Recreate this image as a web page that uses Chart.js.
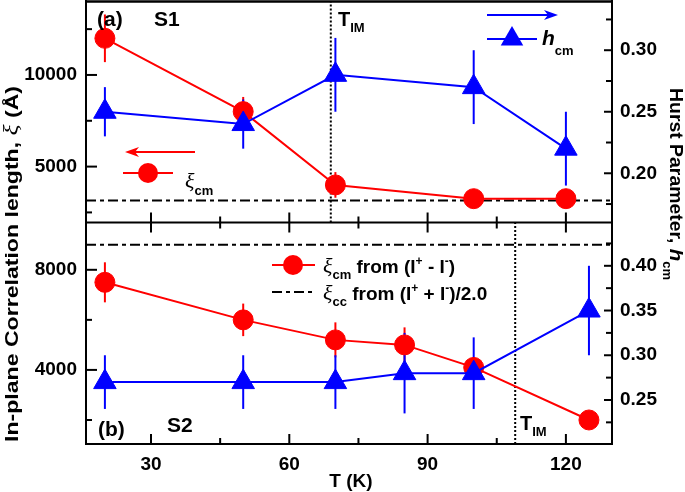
<!DOCTYPE html>
<html>
<head>
<meta charset="utf-8">
<script src="https://cdn.jsdelivr.net/npm/chart.js"></script>
<style>
  body { margin: 0; background: #fff; }
  #wrap { width: 685px; height: 492px; }
</style>
</head>
<body>
<div id="wrap"><canvas id="hurst-chart"></canvas></div>
<script>
// Sample S1 (panel a)
var tempS1 = [20, 50, 70, 100, 120];
var xiS1 = [12000, 8000, 4000, 3250, 3250];
var xiErrS1 = [1300, 800, 700, 400, 300];
var hS1 = [0.25, 0.24, 0.28, 0.27, 0.22];
var hErrS1 = [0.02, 0.02, 0.03, 0.03, 0.03];

// Sample S2 (panel b)
var tempS2 = [20, 50, 70, 85, 100, 125];
var xiS2 = [7500, 6000, 5200, 5000, 4100, 2000];
var xiErrS2 = [800, 650, 700, 700, 300, 200];
var hS2 = [0.27, 0.27, 0.27, 0.28, 0.28, 0.35];
var hErrS2 = [0.03, 0.03, 0.03, 0.045, 0.04, 0.05];

// xi_cc level and T_IM for S1, S2
var xiCC = [3150, 9000];
var tIM = [69, 109];

// ticks (all marks) and the ones that carry a label
var xTicks = [30, 45, 60, 75, 90, 105, 120];
var xLabels = [30, 60, 90, 120];
var xiTicksS1 = [2500, 5000, 7500, 10000, 12500];
var xiLabelsS1 = [5000, 10000];
var hTicksS1 = [0.175, 0.2, 0.225, 0.25, 0.275, 0.3, 0.325];
var hLabelsS1 = [0.2, 0.25, 0.3];
var xiTicksS2 = [2000, 4000, 6000, 8000];
var xiLabelsS2 = [4000, 8000];
var hTicksS2 = [0.225, 0.25, 0.275, 0.3, 0.325, 0.35, 0.375, 0.4, 0.425];
var hLabelsS2 = [0.25, 0.3, 0.35, 0.4];

var RED = "#ff0000";
var BLUE = "#0000ff";
var SANS = "'Liberation Sans', Arial, sans-serif";
var SERIF = "'Liberation Serif', 'Times New Roman', serif";

var X_MIN = 15.9, X_MAX = 130;

/*******************************
* small helpers
*******************************/
function has(list, v) {
  return list.some(function (l) { return Math.abs(l - v) < 1e-9; });
}
function pts(xs, ys) {
  return xs.map(function (x, i) { return {x: x, y: ys[i]}; });
}
function setTicks(list) {
  return function (scale) { scale.ticks = list.map(function (v) { return {value: v}; }); };
}
function noPad(size, key) {
  return function (scale) {
    scale[key] = size;
    scale.paddingTop = 0; scale.paddingBottom = 0;
    scale.paddingLeft = 0; scale.paddingRight = 0;
  };
}
function yAxis(pos, min, max, ticks, labels, fmt) {
  return {
    type: "linear", position: pos, stack: pos, stackWeight: 1,
    min: min, max: max,
    grid: {display: false, drawTicks: false},
    border: {color: "#000", width: 2},
    afterBuildTicks: setTicks(ticks),
    afterFit: noPad(pos === "left" ? 86 : 73, "width"),
    ticks: {
      autoSkip: false, color: "#000", padding: pos === "left" ? 9 : 8,
      font: {family: SANS, size: 19, weight: "bold"},
      callback: function (v) { return has(labels, v) ? fmt(v) : ""; }
    }
  };
}

function richText(ctx, x, y, parts) {
  var cx = x;
  parts.forEach(function (p) {
    ctx.font = p[1];
    ctx.fillText(p[0], cx, y + (p[2] || 0));
    cx += ctx.measureText(p[0]).width;
  });
  return cx - x;
}
function richWidth(ctx, parts) {
  var w = 0;
  parts.forEach(function (p) { ctx.font = p[1]; w += ctx.measureText(p[0]).width; });
  return w;
}

function circleMark(ctx, x, y, r, color) {
  ctx.fillStyle = color;
  ctx.beginPath(); ctx.arc(x, y, r, 0, Math.PI * 2); ctx.fill();
}
function triangleMark(ctx, x, y, r, color) {
  ctx.fillStyle = color;
  ctx.beginPath();
  ctx.moveTo(x, y - r);
  ctx.lineTo(x + r * 0.866, y + r / 2);
  ctx.lineTo(x - r * 0.866, y + r / 2);
  ctx.closePath(); ctx.fill();
}
function hLine(ctx, x1, x2, y, color, width, dash) {
  ctx.save();
  ctx.strokeStyle = color; ctx.lineWidth = width;
  ctx.setLineDash(dash || []);
  ctx.beginPath(); ctx.moveTo(x1, y); ctx.lineTo(x2, y); ctx.stroke();
  ctx.restore();
}
function arrow(ctx, from, to, y, color) {
  var dir = to > from ? 1 : -1;
  hLine(ctx, from, to - dir * 10, y, color, 2);
  ctx.fillStyle = color;
  ctx.beginPath();
  ctx.moveTo(to, y);
  ctx.lineTo(to - dir * 14, y - 5);
  ctx.lineTo(to - dir * 10, y);
  ctx.lineTo(to - dir * 14, y + 5);
  ctx.closePath(); ctx.fill();
}

/*******************************
* error bars, drawn under the markers
*******************************/
function errorBars(chart, xs, ys, errs, axisId, color) {
  var ctx = chart.ctx, sx = chart.scales.x, sy = chart.scales[axisId];
  ctx.save();
  ctx.strokeStyle = color; ctx.lineWidth = 2;
  xs.forEach(function (t, i) {
    var px = sx.getPixelForValue(t);
    ctx.beginPath();
    ctx.moveTo(px, sy.getPixelForValue(ys[i] + errs[i]));
    ctx.lineTo(px, sy.getPixelForValue(ys[i] - errs[i]));
    ctx.stroke();
  });
  ctx.restore();
}

/*******************************
* inward tick marks, frame, legends, labels, titles
*******************************/
function drawTickMarks(chart) {
  var ctx = chart.ctx, a = chart.chartArea;
  ctx.save();
  ctx.strokeStyle = "#000"; ctx.lineWidth = 2;
  var labelsFor = {yXi1: xiLabelsS1, yXi2: xiLabelsS2, yH1: hLabelsS1, yH2: hLabelsS2};
  Object.keys(labelsFor).forEach(function (id) {
    var s = chart.scales[id];
    s.ticks.forEach(function (t) {
      var major = has(labelsFor[id], t.value);
      var py = s.getPixelForValue(t.value);
      var len = s.position === "left" ? (major ? 11 : 6) : (major ? 8 : 6);
      ctx.beginPath();
      if (s.position === "left") { ctx.moveTo(a.left, py); ctx.lineTo(a.left + len, py); }
      else { ctx.moveTo(a.right, py); ctx.lineTo(a.right - len, py); }
      ctx.stroke();
    });
  });
  var sx = chart.scales.x, sep = chart.scales.yXi1.bottom;
  sx.ticks.forEach(function (t) {
    var px = sx.getPixelForValue(t.value);
    var len = has(xLabels, t.value) ? 10 : 6;
    ctx.beginPath();
    ctx.moveTo(px, a.bottom); ctx.lineTo(px, a.bottom - len);
    ctx.moveTo(px, sep - len); ctx.lineTo(px, sep + len);
    ctx.stroke();
  });
  ctx.restore();
  hLine(ctx, a.left, a.right, a.top + 0.5, "#000", 2.5);
  hLine(ctx, a.left, a.right, sep, "#000", 2);
}

function drawLegends(ctx) {
  var B19 = "bold 19px " + SANS, B13 = "bold 13px " + SANS, B12 = "bold 12px " + SANS;
  var XI = "italic 22px " + SERIF;
  ctx.save();
  ctx.textBaseline = "alphabetic"; ctx.textAlign = "left";
  // panel (a)
  arrow(ctx, 195, 125, 152, RED);
  hLine(ctx, 123, 173, 173, RED, 2);
  circleMark(ctx, 148, 173, 10, RED);
  ctx.fillStyle = "#000";
  richText(ctx, 185, 188, [["\u03BE", XI], ["cm", B13, 7]]);
  arrow(ctx, 487, 558, 15, BLUE);
  hLine(ctx, 487, 537, 39, BLUE, 2);
  triangleMark(ctx, 512, 39, 13, BLUE);
  ctx.fillStyle = "#000";
  richText(ctx, 542, 45, [["h", "italic bold 21px " + SANS], ["cm", B13, 10]]);
  // panel (b)
  hLine(ctx, 272, 315, 265, RED, 2);
  circleMark(ctx, 293, 265, 10, RED);
  hLine(ctx, 272, 315, 292, "#000", 2, [10, 4, 4, 4]);
  ctx.fillStyle = "#000";
  richText(ctx, 323, 273, [["\u03BE", XI], ["cm", B13, 6], [" from (I", B19], ["+", B12, -8],
    [" - I", B19], ["-", B12, -8], [")", B19]]);
  richText(ctx, 323, 300, [["\u03BE", XI], ["cc", B13, 6], [" from (I", B19], ["+", B12, -8],
    [" + I", B19], ["-", B12, -8], [")/2.0", B19]]);
  ctx.restore();
}

function drawLabels(ctx) {
  var B21 = "bold 21px " + SANS, B20 = "bold 20px " + SANS, B13 = "bold 13px " + SANS;
  ctx.save();
  ctx.fillStyle = "#000"; ctx.textBaseline = "alphabetic"; ctx.textAlign = "left";
  richText(ctx, 97, 26, [["(a)", B21]]);
  richText(ctx, 154, 26, [["S1", B21]]);
  richText(ctx, 338, 26, [["T", B20], ["IM", B13, 6]]);
  richText(ctx, 98, 436, [["(b)", B21]]);
  richText(ctx, 167, 432, [["S2", B21]]);
  richText(ctx, 520, 430, [["T", B20], ["IM", B13, 6]]);
  ctx.restore();
}

function drawTitles(ctx) {
  var B18 = "bold 18px " + SANS;
  ctx.save();
  ctx.fillStyle = "#000"; ctx.textBaseline = "alphabetic"; ctx.textAlign = "left";
  // left, reading upwards
  var left = [["In-plane Correlation length, ", B18], ["\u03BE", "italic 20px " + SERIF], [" (\u00C5)", B18]];
  ctx.save();
  ctx.translate(18, 442); ctx.rotate(-Math.PI / 2);
  ctx.scale(356 / richWidth(ctx, left), 1);
  richText(ctx, 0, 0, left);
  ctx.restore();
  // right, reading downwards
  var right = [["Hurst Parameter, ", B18], ["h", "italic bold 19px " + SANS], ["cm", "bold 12px " + SANS, 7]];
  ctx.save();
  ctx.translate(670, 88); ctx.rotate(Math.PI / 2);
  ctx.scale(192 / richWidth(ctx, right), 1);
  richText(ctx, 0, 0, right);
  ctx.restore();
  // x
  ctx.font = "bold 19px " + SANS; ctx.textAlign = "center";
  ctx.fillText("T (K)", 351, 487);
  ctx.restore();
}

var decor = {
  id: "decor",
  beforeDatasetsDraw: function (chart) {
    errorBars(chart, tempS1, xiS1, xiErrS1, "yXi1", RED);
    errorBars(chart, tempS2, xiS2, xiErrS2, "yXi2", RED);
    errorBars(chart, tempS1, hS1, hErrS1, "yH1", BLUE);
    errorBars(chart, tempS2, hS2, hErrS2, "yH2", BLUE);
  },
  afterDraw: function (chart) {
    drawTickMarks(chart);
    drawLegends(chart.ctx);
    drawLabels(chart.ctx);
    drawTitles(chart.ctx);
  }
};

function markerSet(xs, ys, axisId, color, style, r) {
  return {
    data: pts(xs, ys), yAxisID: axisId,
    borderColor: color, backgroundColor: color, borderWidth: 2,
    pointStyle: style, pointRadius: r, pointBorderWidth: 1, order: style === "triangle" ? 0 : 1
  };
}
function refLine(data, axisId, dash) {
  return {
    data: data, yAxisID: axisId, borderColor: "#000", borderWidth: 2,
    borderDash: dash, pointRadius: 0, order: 2
  };
}

var hiS1 = 14035, loS1 = 1950, hiS2 = 9890, loS2 = 1040;

new Chart("hurst-chart", {
  type: "line",
  data: {
    datasets: [
      markerSet(tempS1, hS1, "yH1", BLUE, "triangle", 13),
      markerSet(tempS2, hS2, "yH2", BLUE, "triangle", 13),
      markerSet(tempS1, xiS1, "yXi1", RED, "circle", 10),
      markerSet(tempS2, xiS2, "yXi2", RED, "circle", 10),
      refLine([{x: X_MIN, y: xiCC[0]}, {x: X_MAX, y: xiCC[0]}], "yXi1", [10, 4, 4, 4]),
      refLine([{x: X_MIN, y: xiCC[1]}, {x: X_MAX, y: xiCC[1]}], "yXi2", [10, 4, 4, 4]),
      refLine([{x: tIM[0], y: loS1}, {x: tIM[0], y: hiS1}], "yXi1", [2, 2]),
      refLine([{x: tIM[1], y: loS2}, {x: tIM[1], y: hiS2}], "yXi2", [2, 2])
    ]
  },
  options: {
    responsive: true, maintainAspectRatio: false, animation: false,
    layout: {padding: {top: 1}, autoPadding: false},
    plugins: {legend: {display: false}, tooltip: {enabled: false}},
    scales: {
      x: {
        type: "linear", position: "bottom", min: X_MIN, max: X_MAX,
        grid: {display: false, drawTicks: false},
        border: {color: "#000", width: 2},
        afterBuildTicks: setTicks(xTicks),
        afterFit: noPad(48, "height"),
        ticks: {
          autoSkip: false, color: "#000", padding: 9, maxRotation: 0,
          font: {family: SANS, size: 19, weight: "bold"},
          callback: function (v) { return has(xLabels, v) ? String(v) : ""; }
        }
      },
      yXi2: yAxis("left", loS2, hiS2, xiTicksS2, xiLabelsS2, String),
      yXi1: yAxis("left", loS1, hiS1, xiTicksS1, xiLabelsS1, String),
      yH1: yAxis("right", 0.16, 0.34, hTicksS1, hLabelsS1, function (v) { return v.toFixed(2); }),
      yH2: yAxis("right", 0.2008, 0.4484, hTicksS2, hLabelsS2, function (v) { return v.toFixed(2); })
    }
  },
  plugins: [decor]
});
</script>
</body>
</html>
